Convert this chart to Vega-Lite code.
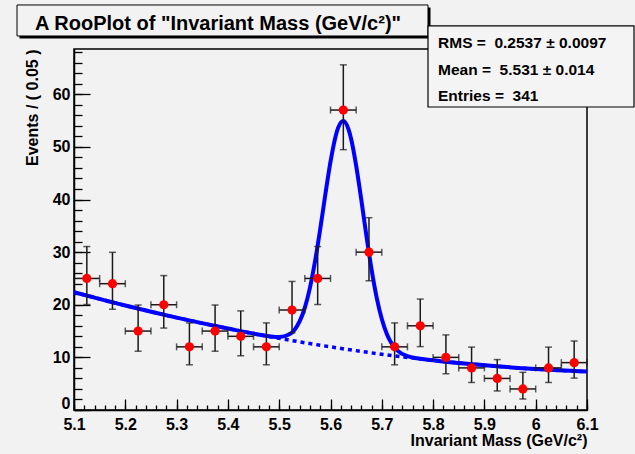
{
  "$schema": "https://vega.github.io/schema/vega-lite/v6.json",
  "width": 513,
  "height": 361,
  "autosize": {"type": "none"},
  "padding": {"left": 74, "top": 49, "right": 48, "bottom": 44},
  "background": "#f2f2f2",
  "config": {
    "view": {"stroke": "#000000", "strokeWidth": 1.5, "fill": "#f2f2f2"},
    "font": "Liberation Sans",
    "axis": {"grid": false, "domainColor": "#000000", "domainWidth": 1.5, "tickColor": "#000000", "tickWidth": 1.3, "labelColor": "#000000", "titleColor": "#000000", "labelFont": "Liberation Sans", "titleFont": "Liberation Sans", "labelFontWeight": "bold", "titleFontWeight": "bold", "labelFlush": false, "labelOverlap": false, "labelBound": false}
  },
  "datasets": {
    "pts": [
      {"x": 5.125, "n": 25, "lo": 20.04, "hi": 31.06, "xlo": 5.10, "xhi": 5.15},
      {"x": 5.175, "n": 24, "lo": 19.14, "hi": 29.96, "xlo": 5.15, "xhi": 5.20},
      {"x": 5.225, "n": 15, "lo": 11.17, "hi": 19.95, "xlo": 5.20, "xhi": 5.25},
      {"x": 5.275, "n": 20, "lo": 15.57, "hi": 25.54, "xlo": 5.25, "xhi": 5.30},
      {"x": 5.325, "n": 12, "lo": 8.59, "hi": 16.55, "xlo": 5.30, "xhi": 5.35},
      {"x": 5.375, "n": 15, "lo": 11.17, "hi": 19.95, "xlo": 5.35, "xhi": 5.40},
      {"x": 5.425, "n": 14, "lo": 10.31, "hi": 18.83, "xlo": 5.40, "xhi": 5.45},
      {"x": 5.475, "n": 12, "lo": 8.59, "hi": 16.55, "xlo": 5.45, "xhi": 5.50},
      {"x": 5.525, "n": 19, "lo": 14.68, "hi": 24.43, "xlo": 5.50, "xhi": 5.55},
      {"x": 5.575, "n": 25, "lo": 20.04, "hi": 31.06, "xlo": 5.55, "xhi": 5.60},
      {"x": 5.625, "n": 57, "lo": 49.47, "hi": 65.59, "xlo": 5.60, "xhi": 5.65},
      {"x": 5.675, "n": 30, "lo": 24.56, "hi": 36.54, "xlo": 5.65, "xhi": 5.70},
      {"x": 5.725, "n": 12, "lo": 8.59, "hi": 16.55, "xlo": 5.70, "xhi": 5.75},
      {"x": 5.775, "n": 16, "lo": 12.05, "hi": 21.08, "xlo": 5.75, "xhi": 5.80},
      {"x": 5.825, "n": 10, "lo": 6.89, "hi": 14.27, "xlo": 5.80, "xhi": 5.85},
      {"x": 5.875, "n": 8, "lo": 5.23, "hi": 11.95, "xlo": 5.85, "xhi": 5.90},
      {"x": 5.925, "n": 6, "lo": 3.62, "hi": 9.58, "xlo": 5.90, "xhi": 5.95},
      {"x": 5.975, "n": 4, "lo": 2.09, "hi": 7.16, "xlo": 5.95, "xhi": 6.00},
      {"x": 6.025, "n": 8, "lo": 5.23, "hi": 11.95, "xlo": 6.00, "xhi": 6.05},
      {"x": 6.075, "n": 9, "lo": 6.06, "hi": 13.11, "xlo": 6.05, "xhi": 6.10}
    ],
    "fit": [
      {"x": 5.10, "y": 22.40}, {"x": 5.20, "y": 19.86}, {"x": 5.30, "y": 17.56}, {"x": 5.40, "y": 15.48},
      {"x": 5.45, "y": 14.52}, {"x": 5.50, "y": 13.86}, {"x": 5.52, "y": 14.39}, {"x": 5.53, "y": 15.27},
      {"x": 5.54, "y": 16.88}, {"x": 5.55, "y": 19.47}, {"x": 5.56, "y": 23.26}, {"x": 5.57, "y": 28.32},
      {"x": 5.58, "y": 34.41}, {"x": 5.59, "y": 40.99}, {"x": 5.60, "y": 47.18}, {"x": 5.61, "y": 52.03},
      {"x": 5.615, "y": 53.66}, {"x": 5.625, "y": 54.93}, {"x": 5.635, "y": 53.37}, {"x": 5.64, "y": 51.59},
      {"x": 5.65, "y": 46.45}, {"x": 5.66, "y": 39.97}, {"x": 5.67, "y": 33.10}, {"x": 5.68, "y": 26.73},
      {"x": 5.69, "y": 21.37}, {"x": 5.70, "y": 17.29}, {"x": 5.71, "y": 14.41}, {"x": 5.72, "y": 12.51},
      {"x": 5.73, "y": 11.34}, {"x": 5.75, "y": 10.23}, {"x": 5.80, "y": 9.44}, {"x": 5.90, "y": 8.50},
      {"x": 6.00, "y": 7.78}, {"x": 6.10, "y": 7.30}
    ],
    "bkg": [
      {"x": 5.10, "y": 22.40}, {"x": 5.20, "y": 19.86}, {"x": 5.30, "y": 17.56}, {"x": 5.40, "y": 15.48},
      {"x": 5.50, "y": 13.62}, {"x": 5.60, "y": 12.00}, {"x": 5.70, "y": 10.60}, {"x": 5.80, "y": 9.44},
      {"x": 5.90, "y": 8.50}, {"x": 6.00, "y": 7.78}, {"x": 6.10, "y": 7.30}
    ]
  },
  "layer": [
    {
      "layer": [
        {
          "data": {"name": "bkg"},
          "mark": {"type": "line", "color": "#0000ff", "strokeWidth": 3.5, "strokeDash": [4, 4], "interpolate": "monotone", "clip": true},
          "encoding": {
            "x": {"field": "x", "type": "quantitative", "scale": {"domain": [5.1, 6.1], "nice": false, "zero": false},
              "title": "Invariant Mass (GeV/c²)",
              "axis": {"orient": "bottom", "values": [5.1, 5.2, 5.3, 5.4, 5.5, 5.6, 5.7, 5.8, 5.9, 6, 6.1], "format": "~g", "tickSize": -11, "labelPadding": 17, "labelFontSize": 16,
                "title": "Invariant Mass (GeV/c²)", "titleFontSize": 16, "titleX": 513, "titleY": 35, "titleAlign": "right", "titleBaseline": "alphabetic"}},
            "y": {"field": "y", "type": "quantitative", "scale": {"domain": [0, 68.6], "nice": false, "zero": false},
              "title": "Events / ( 0.05 )",
              "axis": {"orient": "left", "values": [0, 10, 20, 30, 40, 50, 60], "format": "d", "tickSize": -16, "labelPadding": 20, "labelFontSize": 16,
                "labelOffset": {"condition": {"test": "datum.value === 0", "value": -7}, "value": 0},
                "title": "Events / ( 0.05 )", "titleFontSize": 16, "titleX": -37, "titleY": 0, "titleAlign": "right", "titleAngle": 270, "titleBaseline": "alphabetic"}}
          }
        },
        {
          "data": {"name": "fit"},
          "mark": {"type": "line", "color": "#0000ff", "strokeWidth": 4, "interpolate": "monotone", "clip": true},
          "encoding": {
            "x": {"field": "x", "type": "quantitative", "title": "Invariant Mass (GeV/c²)"},
            "y": {"field": "y", "type": "quantitative", "title": "Events / ( 0.05 )"}
          }
        },
        {
          "data": {"name": "pts"},
          "mark": {"type": "errorbar", "orient": "vertical", "color": "#1a1a1a", "thickness": 1.5, "ticks": {"size": 7}},
          "encoding": {
            "x": {"field": "x", "type": "quantitative", "title": "Invariant Mass (GeV/c²)"},
            "y": {"field": "lo", "type": "quantitative", "title": "Events / ( 0.05 )"},
            "y2": {"field": "hi"}
          }
        },
        {
          "data": {"name": "pts"},
          "mark": {"type": "errorbar", "orient": "horizontal", "color": "#1a1a1a", "thickness": 1.5, "ticks": {"size": 7}},
          "encoding": {
            "x": {"field": "xlo", "type": "quantitative", "title": "Invariant Mass (GeV/c²)"},
            "x2": {"field": "xhi"},
            "y": {"field": "n", "type": "quantitative", "title": "Events / ( 0.05 )"}
          }
        },
        {
          "data": {"name": "pts"},
          "mark": {"type": "circle", "color": "#ff0000", "opacity": 1, "size": 85},
          "encoding": {
            "x": {"field": "x", "type": "quantitative", "title": "Invariant Mass (GeV/c²)"},
            "y": {"field": "n", "type": "quantitative", "title": "Events / ( 0.05 )"}
          }
        },
        {
          "data": {"values": [{}]},
          "mark": {"type": "rect", "color": "#000000", "clip": false},
          "encoding": {
            "x": {"datum": 4.99376, "type": "quantitative", "title": "Invariant Mass (GeV/c²)"}, "x2": {"datum": 5.79493},
            "y": {"datum": 76.49, "type": "quantitative", "title": "Events / ( 0.05 )"}, "y2": {"datum": 70.60}
          }
        },
        {
          "data": {"values": [{}]},
          "mark": {"type": "rect", "fill": "#f2f2f2", "stroke": "#000000", "strokeWidth": 1, "clip": false},
          "encoding": {
            "x": {"datum": 4.98889, "type": "quantitative", "title": "Invariant Mass (GeV/c²)"}, "x2": {"datum": 5.79006},
            "y": {"datum": 76.967, "type": "quantitative", "title": "Events / ( 0.05 )"}, "y2": {"datum": 71.076}
          }
        },
        {
          "data": {"values": [{}]},
          "mark": {"type": "text", "text": "A RooPlot of \"Invariant Mass (GeV/c²)\"", "align": "left", "baseline": "alphabetic", "font": "Liberation Sans", "fontSize": 20, "fontWeight": "bold", "color": "#000000", "clip": false},
          "encoding": {
            "x": {"datum": 5.02398, "type": "quantitative", "title": "Invariant Mass (GeV/c²)"},
            "y": {"datum": 72.22, "type": "quantitative", "title": "Events / ( 0.05 )"}
          }
        },
        {
          "data": {"values": [{}]},
          "mark": {"type": "rect", "fill": "#f4f4f4", "stroke": "#000000", "strokeWidth": 1.2, "clip": false},
          "encoding": {
            "x": {"datum": 5.79006, "type": "quantitative", "title": "Invariant Mass (GeV/c²)"}, "x2": {"datum": 6.1916},
            "y": {"datum": 72.98, "type": "quantitative", "title": "Events / ( 0.05 )"}, "y2": {"datum": 57.58}
          }
        },
        {
          "data": {"values": [{}]},
          "mark": {"type": "text", "text": "RMS =\u00a0 0.2537 ± 0.0097", "align": "left", "baseline": "alphabetic", "font": "Liberation Sans", "fontSize": 15.5, "fontWeight": "bold", "color": "#000000", "clip": false},
          "encoding": {"x": {"datum": 5.8096, "type": "quantitative", "title": "Invariant Mass (GeV/c²)"}, "y": {"datum": 68.85, "type": "quantitative", "title": "Events / ( 0.05 )"}}
        },
        {
          "data": {"values": [{}]},
          "mark": {"type": "text", "text": "Mean =\u00a0 5.531 ± 0.014", "align": "left", "baseline": "alphabetic", "font": "Liberation Sans", "fontSize": 15.5, "fontWeight": "bold", "color": "#000000", "clip": false},
          "encoding": {"x": {"datum": 5.8096, "type": "quantitative", "title": "Invariant Mass (GeV/c²)"}, "y": {"datum": 63.66, "type": "quantitative", "title": "Events / ( 0.05 )"}}
        },
        {
          "data": {"values": [{}]},
          "mark": {"type": "text", "text": "Entries =\u00a0 341", "align": "left", "baseline": "alphabetic", "font": "Liberation Sans", "fontSize": 15.5, "fontWeight": "bold", "color": "#000000", "clip": false},
          "encoding": {"x": {"datum": 5.8096, "type": "quantitative", "title": "Invariant Mass (GeV/c²)"}, "y": {"datum": 58.72, "type": "quantitative", "title": "Events / ( 0.05 )"}}
        }
      ]
    },
    {
      "data": {"name": "pts"},
      "mark": {"type": "point", "opacity": 0},
      "encoding": {
        "x": {"field": "x", "type": "quantitative", "scale": {"domain": [5.1, 6.1], "nice": false, "zero": false},
          "axis": {"orient": "bottom", "values": [5.1, 5.12, 5.14, 5.16, 5.18, 5.2, 5.22, 5.24, 5.26, 5.28, 5.3, 5.32, 5.34, 5.36, 5.38, 5.4, 5.42, 5.44, 5.46, 5.48, 5.5, 5.52, 5.54, 5.56, 5.58, 5.6, 5.62, 5.64, 5.66, 5.68, 5.7, 5.72, 5.74, 5.76, 5.78, 5.8, 5.82, 5.84, 5.86, 5.88, 5.9, 5.92, 5.94, 5.96, 5.98, 6, 6.02, 6.04, 6.06, 6.08, 6.1], "labels": false, "domain": false, "title": null, "tickSize": -5}},
        "y": {"field": "n", "type": "quantitative", "scale": {"domain": [0, 68.6], "nice": false, "zero": false},
          "axis": {"orient": "left", "values": [0, 2, 4, 6, 8, 10, 12, 14, 16, 18, 20, 22, 24, 26, 28, 30, 32, 34, 36, 38, 40, 42, 44, 46, 48, 50, 52, 54, 56, 58, 60, 62, 64, 66, 68], "labels": false, "domain": false, "title": null, "tickSize": -8}}
      }
    }
  ],
  "resolve": {"axis": {"x": "independent", "y": "independent"}}
}
